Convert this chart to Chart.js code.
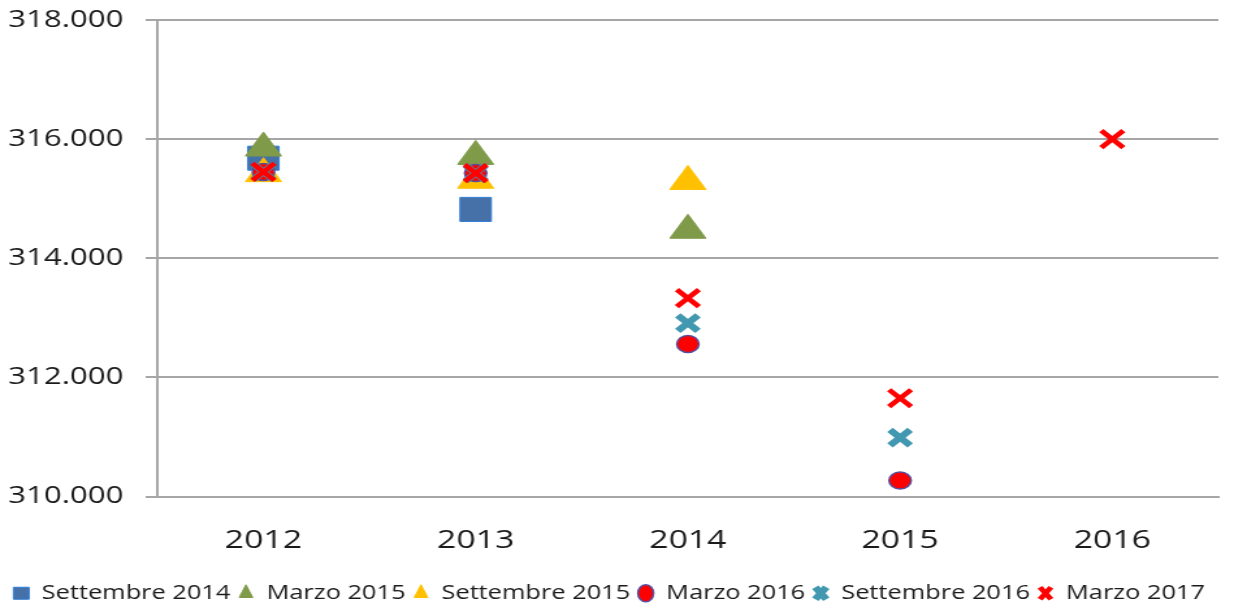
<!DOCTYPE html>
<html>
<head>
<meta charset="utf-8">
<script src="https://cdn.jsdelivr.net/npm/chart.js@4/dist/chart.umd.min.js"></script>
<style>
  html, body { margin: 0; padding: 0; background: #fff; }
  /* the original picture is stretched sideways, so the canvas is too */
  #chart { width: 1234px !important; height: 606px !important; display: block; }
</style>
</head>
<body>
<canvas id="chart" width="949" height="606"></canvas>
<script>
let years = ['2012', '2013', '2014', '2015', '2016'];
let settembre2014 = [315680, 314820, null, null, null];
let marzo2015 = [315850, 315710, 314470, null, null];
let settembre2015 = [315420, 315310, 315290, null, null];
let marzo2016 = [315450, 315430, 312560, 310270, null];
let settembre2016 = [315450, 315430, 312910, 310990, null];
let marzo2017 = [315450, 315430, 313330, 311650, 316000];
let yTicks = [310000, 312000, 314000, 316000, 318000];

let fontFamily = "'Open Sans', 'DejaVu Sans', sans-serif";

function series(label, data, style, fill, border, radius, bw) {
    return {
        label: label,
        data: data,
        showLine: false,
        pointStyle: style,
        backgroundColor: fill,
        borderColor: border,
        pointRadius: radius,
        pointHoverRadius: radius,
        pointBorderWidth: bw
    };
}

let datasets = [
    series('Settembre 2014', settembre2014, 'rect', '#4670A8', '#2F7ED8', 17, 1),
    series('Marzo 2015', marzo2015, 'triangle', '#7F9A48', '#7F9A48', 16, 1),
    series('Settembre 2015', settembre2015, 'triangle', '#FFC000', '#FFC000', 16, 1),
    series('Marzo 2016', marzo2016, 'circle', '#FF0000', '#5B4C9C', 8.5, 1.5),
    series('Settembre 2016', settembre2016, 'crossRot', '#4198B0', '#4198B0', 11, 6),
    series('Marzo 2017', marzo2017, 'crossRot', '#FF0000', '#FF0000', 12, 4.5)
];
// later series drawn on top
datasets.forEach((d, i) => d.order = datasets.length - i);

let ctx = document.getElementById('chart').getContext('2d');
let chart = new Chart(ctx, {
    type: 'line',
    data: { labels: years, datasets: datasets },
    options: {
        responsive: false,
        animation: false,
        devicePixelRatio: 1,
        layout: { autoPadding: false, padding: { top: 20, right: 12, left: 0, bottom: -7 } },
        scales: {
            x: {
                offset: true,
                grid: { display: false },
                border: { display: true, color: '#A6A6A6', width: 2 },
                ticks: { color: '#1a1a1a', font: { family: fontFamily, size: 26 }, padding: 20 },
                afterFit: function (scale) {
                    scale.height = 81;
                    scale.paddingLeft = 0;
                    scale.paddingRight = 0;
                }
            },
            y: {
                min: 310000,
                max: 318000,
                afterBuildTicks: function (scale) {
                    scale.ticks = yTicks.map(v => ({ value: v }));
                },
                grid: { color: '#A6A6A6', lineWidth: 2, tickLength: 9 },
                border: { display: true, color: '#A6A6A6', width: 2 },
                ticks: {
                    color: '#1a1a1a',
                    font: { family: fontFamily, size: 24 },
                    padding: 17,
                    callback: function (v) {
                        return String(v).replace(/\B(?=(\d{3})+(?!\d))/g, '.');
                    }
                },
                afterFit: function (scale) {
                    scale.width = 121;
                    scale.paddingTop = 0;
                    scale.paddingBottom = 0;
                }
            }
        },
        plugins: {
            tooltip: { enabled: false },
            legend: {
                position: 'bottom',
                labels: {
                    usePointStyle: true,
                    boxWidth: 12,
                    boxHeight: 12,
                    pointStyleWidth: 12,
                    padding: 6,
                    color: '#1a1a1a',
                    font: { family: fontFamily, size: 19.5 },
                    sort: (a, b) => a.datasetIndex - b.datasetIndex
                }
            }
        }
    }
});
</script>
</body>
</html>
